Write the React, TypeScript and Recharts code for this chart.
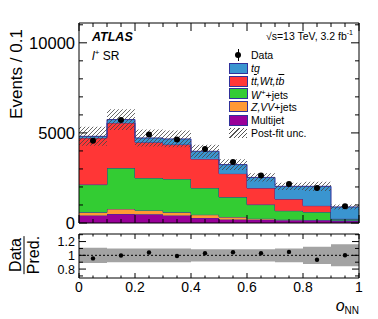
import React from 'react';
import { ComposedChart, Area, Scatter, XAxis, YAxis, ReferenceLine } from 'recharts';

// bin edges of o_NN and bin centres for the data points
const binEdges = [0, 0.1, 0.2, 0.3, 0.4, 0.5, 0.6, 0.7, 0.8, 0.9, 1.0];
const binCenters = [0.05, 0.15, 0.25, 0.35, 0.45, 0.55, 0.65, 0.75, 0.85, 0.95];

// stacked components, events per bin (bottom to top)
const multijet = [420, 500, 480, 420, 280, 200, 185, 150, 150, 120];
const zvvJets = [170, 280, 220, 170, 180, 130, 55, 35, 20, 15];
const wJets = [1540, 2270, 1800, 1855, 1485, 1110, 780, 495, 440, 85];
const ttbar = [2590, 2505, 1980, 1905, 1610, 1300, 920, 650, 350, 15];
const tq = [90, 185, 240, 315, 425, 500, 590, 705, 1075, 655];

const dataEvents = [4570, 5720, 4905, 4630, 4110, 3390, 2630, 2170, 1945, 925];
const uncFrac = [0.11, 0.1, 0.1, 0.1, 0.09, 0.09, 0.09, 0.1, 0.125, 0.16];
const ratioValues = [0.955, 0.997, 1.04, 0.99, 1.03, 1.045, 1.03, 1.05, 0.935, 1.0];

// axis ticks
const xMajor = [0, 0.2, 0.4, 0.6, 0.8, 1];
const xTicks = [0, 0.05, 0.1, 0.15, 0.2, 0.25, 0.3, 0.35, 0.4, 0.45, 0.5, 0.55, 0.6, 0.65, 0.7, 0.75, 0.8, 0.85, 0.9, 0.95, 1];
const yMajor = [0, 5000, 10000];
const yTicks = [0, 1000, 2000, 3000, 4000, 5000, 6000, 7000, 8000, 9000, 10000, 11000];
const rMajor = [0.8, 1, 1.2];
const rTicks = [0.7, 0.8, 0.9, 1, 1.1, 1.2, 1.3];

const C = {
  tq: '#3a95d0',
  tt: '#ff3636',
  w: '#33cc33',
  z: '#ff9933',
  mj: '#990099',
  edge: '#30309a',
};

const mainRows = binEdges.map((x, i) => {
  const j = Math.min(i, 9);
  const tot = multijet[j] + zvvJets[j] + wJets[j] + ttbar[j] + tq[j];
  return {
    x,
    mj: multijet[j],
    z: zvvJets[j],
    w: wJets[j],
    tt: ttbar[j],
    tq: tq[j],
    band: [tot * (1 - uncFrac[j]), tot * (1 + uncFrac[j])],
  };
});

const ratioRows = binEdges.map((x, i) => {
  const j = Math.min(i, 9);
  return { x, band: [1 - uncFrac[j], 1 + uncFrac[j]] };
});

const dataPoints = binCenters.map((x, i) => ({ x, y: dataEvents[i] }));
const ratioPoints = binCenters.map((x, i) => ({ x, y: ratioValues[i] }));

const FONT = '"Liberation Sans", Arial, Helvetica, sans-serif';

type TickCfg = {
  side: 'bottom' | 'top' | 'left' | 'right';
  major: number[];
  len: number;
  minorLen: number;
  label?: boolean;
  fontSize?: number;
  dy?: number;
};

const makeTick = (cfg: TickCfg) => (props: any) => {
  const { x, y, payload } = props;
  const v = payload.value;
  const isMaj = cfg.major.some((m) => Math.abs(m - v) < 1e-9);
  const l = isMaj ? cfg.len : cfg.minorLen;
  let line;
  if (cfg.side === 'bottom') line = <line x1={x} y1={y} x2={x} y2={y - l} stroke="#000" />;
  else if (cfg.side === 'top') line = <line x1={x} y1={y} x2={x} y2={y + l} stroke="#000" />;
  else if (cfg.side === 'left') line = <line x1={x} y1={y} x2={x + l} y2={y} stroke="#000" />;
  else line = <line x1={x} y1={y} x2={x - l} y2={y} stroke="#000" />;
  let label = null;
  if (cfg.label && isMaj) {
    if (cfg.side === 'bottom') {
      label = (
        <text x={x} y={y + (cfg.dy || 14)} textAnchor="middle" fontSize={cfg.fontSize} fontFamily={FONT} fill="#000">
          {String(v)}
        </text>
      );
    } else {
      label = (
        <text x={x - 4} y={y + (cfg.dy || 6)} textAnchor="end" fontSize={cfg.fontSize} fontFamily={FONT} fill="#000">
          {String(v)}
        </text>
      );
    }
  }
  return (
    <g>
      {line}
      {label}
    </g>
  );
};

const dot = (r: number) => (p: any) => <circle cx={p.cx} cy={p.cy} r={r} fill="#000" />;

const axisCommon = {
  tickLine: false,
  tickSize: 0,
  tickMargin: 0,
  interval: 0 as const,
  axisLine: { stroke: '#000', strokeWidth: 1 },
  allowDataOverflow: true,
};

const Swatch = ({ color }: { color: string }) => (
  <div style={{ width: 17, height: 9, background: color, border: `1px solid ${C.edge}` }} />
);

const hatchCss = 'repeating-linear-gradient(-45deg, #555 0px, #555 0.8px, transparent 0.8px, transparent 3px)';

const legendRows: { y: number; mark: React.ReactNode; text: React.ReactNode }[] = [
  {
    y: 54.5,
    mark: (
      <div style={{ position: 'relative', width: 19, height: 10 }}>
        <div style={{ position: 'absolute', left: 6, top: 2, width: 6, height: 6, borderRadius: 3, background: '#000' }} />
        <div style={{ position: 'absolute', left: 8.5, top: -1, width: 1, height: 12, background: '#000' }} />
      </div>
    ),
    text: 'Data',
  },
  { y: 68, mark: <Swatch color={C.tq} />, text: <i>tq</i> },
  {
    y: 81,
    mark: <Swatch color={C.tt} />,
    text: (
      <i>
        t<span style={{ textDecoration: 'overline' }}>t</span>,Wt,t<span style={{ textDecoration: 'overline' }}>b</span>
      </i>
    ),
  },
  {
    y: 93.5,
    mark: <Swatch color={C.w} />,
    text: (
      <span>
        <i>W</i>
        <sup style={{ fontSize: 8 }}>+</sup>+jets
      </span>
    ),
  },
  {
    y: 106.5,
    mark: <Swatch color={C.z} />,
    text: (
      <span>
        <i>Z,VV</i>+jets
      </span>
    ),
  },
  { y: 120, mark: <Swatch color={C.mj} />, text: 'Multijet' },
  {
    y: 133,
    mark: <div style={{ width: 18, height: 10, backgroundImage: hatchCss }} />,
    text: 'Post-fit unc.',
  },
];

export default function App() {
  return (
    <div style={{ position: 'absolute', left: 0, top: 0, width: 378, height: 319, background: '#fff', fontFamily: FONT, overflow: 'hidden' }}>
      <div style={{ position: 'absolute', left: 0, top: 0 }}>
        <ComposedChart width={378} height={240} data={mainRows} margin={{ top: 0, right: 0, bottom: 0, left: 0 }}>
          <defs>
            <pattern id="hatch" patternUnits="userSpaceOnUse" width="4" height="4">
              <path d="M-1,1 l2,-2 M0,4 l4,-4 M3,5 l2,-2" stroke="#444" strokeWidth="0.8" />
            </pattern>
          </defs>
          <XAxis xAxisId="b" dataKey="x" type="number" domain={[0, 1]} ticks={xTicks} height={17} orientation="bottom" {...axisCommon} tick={makeTick({ side: 'bottom', major: xMajor, len: 8, minorLen: 4 })} />
          <XAxis xAxisId="t" dataKey="x" type="number" domain={[0, 1]} ticks={xTicks} height={23} orientation="top" {...axisCommon} tick={makeTick({ side: 'top', major: xMajor, len: 8, minorLen: 4 })} />
          <YAxis yAxisId="l" type="number" domain={[0, 11100]} ticks={yTicks} width={79} orientation="left" {...axisCommon} tick={makeTick({ side: 'left', major: yMajor, len: 8, minorLen: 4, label: true, fontSize: 16.5, dy: 6 })} />
          <YAxis yAxisId="r" type="number" domain={[0, 11100]} ticks={yTicks} width={19} orientation="right" {...axisCommon} tick={makeTick({ side: 'right', major: yMajor, len: 8, minorLen: 4 })} />
          <Area xAxisId="b" yAxisId="l" type="stepAfter" dataKey="mj" stackId="s" fill={C.mj} fillOpacity={1} stroke={C.edge} strokeWidth={1} isAnimationActive={false} />
          <Area xAxisId="b" yAxisId="l" type="stepAfter" dataKey="z" stackId="s" fill={C.z} fillOpacity={1} stroke={C.edge} strokeWidth={1} isAnimationActive={false} />
          <Area xAxisId="b" yAxisId="l" type="stepAfter" dataKey="w" stackId="s" fill={C.w} fillOpacity={1} stroke={C.edge} strokeWidth={1} isAnimationActive={false} />
          <Area xAxisId="b" yAxisId="l" type="stepAfter" dataKey="tt" stackId="s" fill={C.tt} fillOpacity={1} stroke={C.edge} strokeWidth={1} isAnimationActive={false} />
          <Area xAxisId="b" yAxisId="l" type="stepAfter" dataKey="tq" stackId="s" fill={C.tq} fillOpacity={1} stroke={C.edge} strokeWidth={1} isAnimationActive={false} />
          <Area xAxisId="b" yAxisId="l" type="stepAfter" dataKey="band" fill="url(#hatch)" fillOpacity={1} stroke="none" isAnimationActive={false} />
          <Scatter xAxisId="b" yAxisId="l" data={dataPoints} dataKey="y" shape={dot(3)} isAnimationActive={false} />
        </ComposedChart>
      </div>

      <div style={{ position: 'absolute', left: 0, top: 228 }}>
        <ComposedChart width={378} height={91} data={ratioRows} margin={{ top: 0, right: 0, bottom: 0, left: 0 }}>
          <XAxis xAxisId="b" dataKey="x" type="number" domain={[0, 1]} ticks={xTicks} height={41} orientation="bottom" {...axisCommon} tick={makeTick({ side: 'bottom', major: xMajor, len: 5, minorLen: 2.5, label: true, fontSize: 14, dy: 14 })} />
          <XAxis xAxisId="t" dataKey="x" type="number" domain={[0, 1]} ticks={xTicks} height={6} orientation="top" {...axisCommon} tick={makeTick({ side: 'top', major: xMajor, len: 5, minorLen: 2.5 })} />
          <YAxis yAxisId="l" type="number" domain={[0.67, 1.31]} ticks={rTicks} width={79} orientation="left" {...axisCommon} tick={makeTick({ side: 'left', major: rMajor, len: 7, minorLen: 4, label: true, fontSize: 12.5, dy: 4.5 })} />
          <YAxis yAxisId="r" type="number" domain={[0.67, 1.31]} ticks={rTicks} width={19} orientation="right" {...axisCommon} tick={makeTick({ side: 'right', major: rMajor, len: 7, minorLen: 4 })} />
          <Area xAxisId="b" yAxisId="l" type="stepAfter" dataKey="band" fill="#a3a3a3" fillOpacity={1} stroke="none" isAnimationActive={false} />
          <ReferenceLine xAxisId="b" yAxisId="l" y={1} stroke="#000" strokeDasharray="2 2" />
          <Scatter xAxisId="b" yAxisId="l" data={ratioPoints} dataKey="y" shape={dot(2.2)} isAnimationActive={false} />
        </ComposedChart>
      </div>

      {/* y-axis title, main panel */}
      <div style={{ position: 'absolute', left: 16, top: 74, width: 0, height: 0 }}>
        <div style={{ position: 'absolute', transform: 'translate(-50%, -50%) rotate(-90deg)', whiteSpace: 'nowrap', fontSize: 17, lineHeight: '17px' }}>
          Events / 0.1
        </div>
      </div>

      {/* y-axis title, ratio panel */}
      <div style={{ position: 'absolute', left: 24, top: 255, width: 0, height: 0 }}>
        <div style={{ position: 'absolute', transform: 'translate(-50%, -50%) rotate(-90deg)', whiteSpace: 'nowrap', fontSize: 16, lineHeight: '15px', textAlign: 'center' }}>
          <div style={{ borderBottom: '1.2px solid #000', padding: '0 1px 1px' }}>Data</div>
          <div style={{ paddingTop: 1 }}>Pred.</div>
        </div>
      </div>

      {/* x-axis title */}
      <div style={{ position: 'absolute', right: 19, top: 297, fontSize: 16, whiteSpace: 'nowrap' }}>
        <i>o</i>
        <span style={{ fontSize: 10, position: 'relative', top: 3 }}>NN</span>
      </div>

      <div style={{ position: 'absolute', left: 92, top: 30, fontSize: 12.5, fontWeight: 'bold', fontStyle: 'italic', lineHeight: '14px' }}>ATLAS</div>
      <div style={{ position: 'absolute', left: 92, top: 46, fontSize: 12, lineHeight: '14px', whiteSpace: 'nowrap' }}>
        <i>l</i>
        <sup style={{ fontSize: 8 }}>+</sup> SR
      </div>

      <div style={{ position: 'absolute', right: 25, top: 26, fontSize: 10.5, lineHeight: '14px', whiteSpace: 'nowrap' }}>
        √s=13 TeV, 3.2 fb<sup style={{ fontSize: 7 }}>-1</sup>
      </div>

      {legendRows.map((r, i) => (
        <div key={i} style={{ position: 'absolute', left: 229, top: r.y - 6, height: 12, display: 'flex', alignItems: 'center', fontSize: 10.5, whiteSpace: 'nowrap' }}>
          <div style={{ width: 22, display: 'flex', alignItems: 'center' }}>{r.mark}</div>
          <div style={{ lineHeight: '12px' }}>{r.text}</div>
        </div>
      ))}
    </div>
  );
}
